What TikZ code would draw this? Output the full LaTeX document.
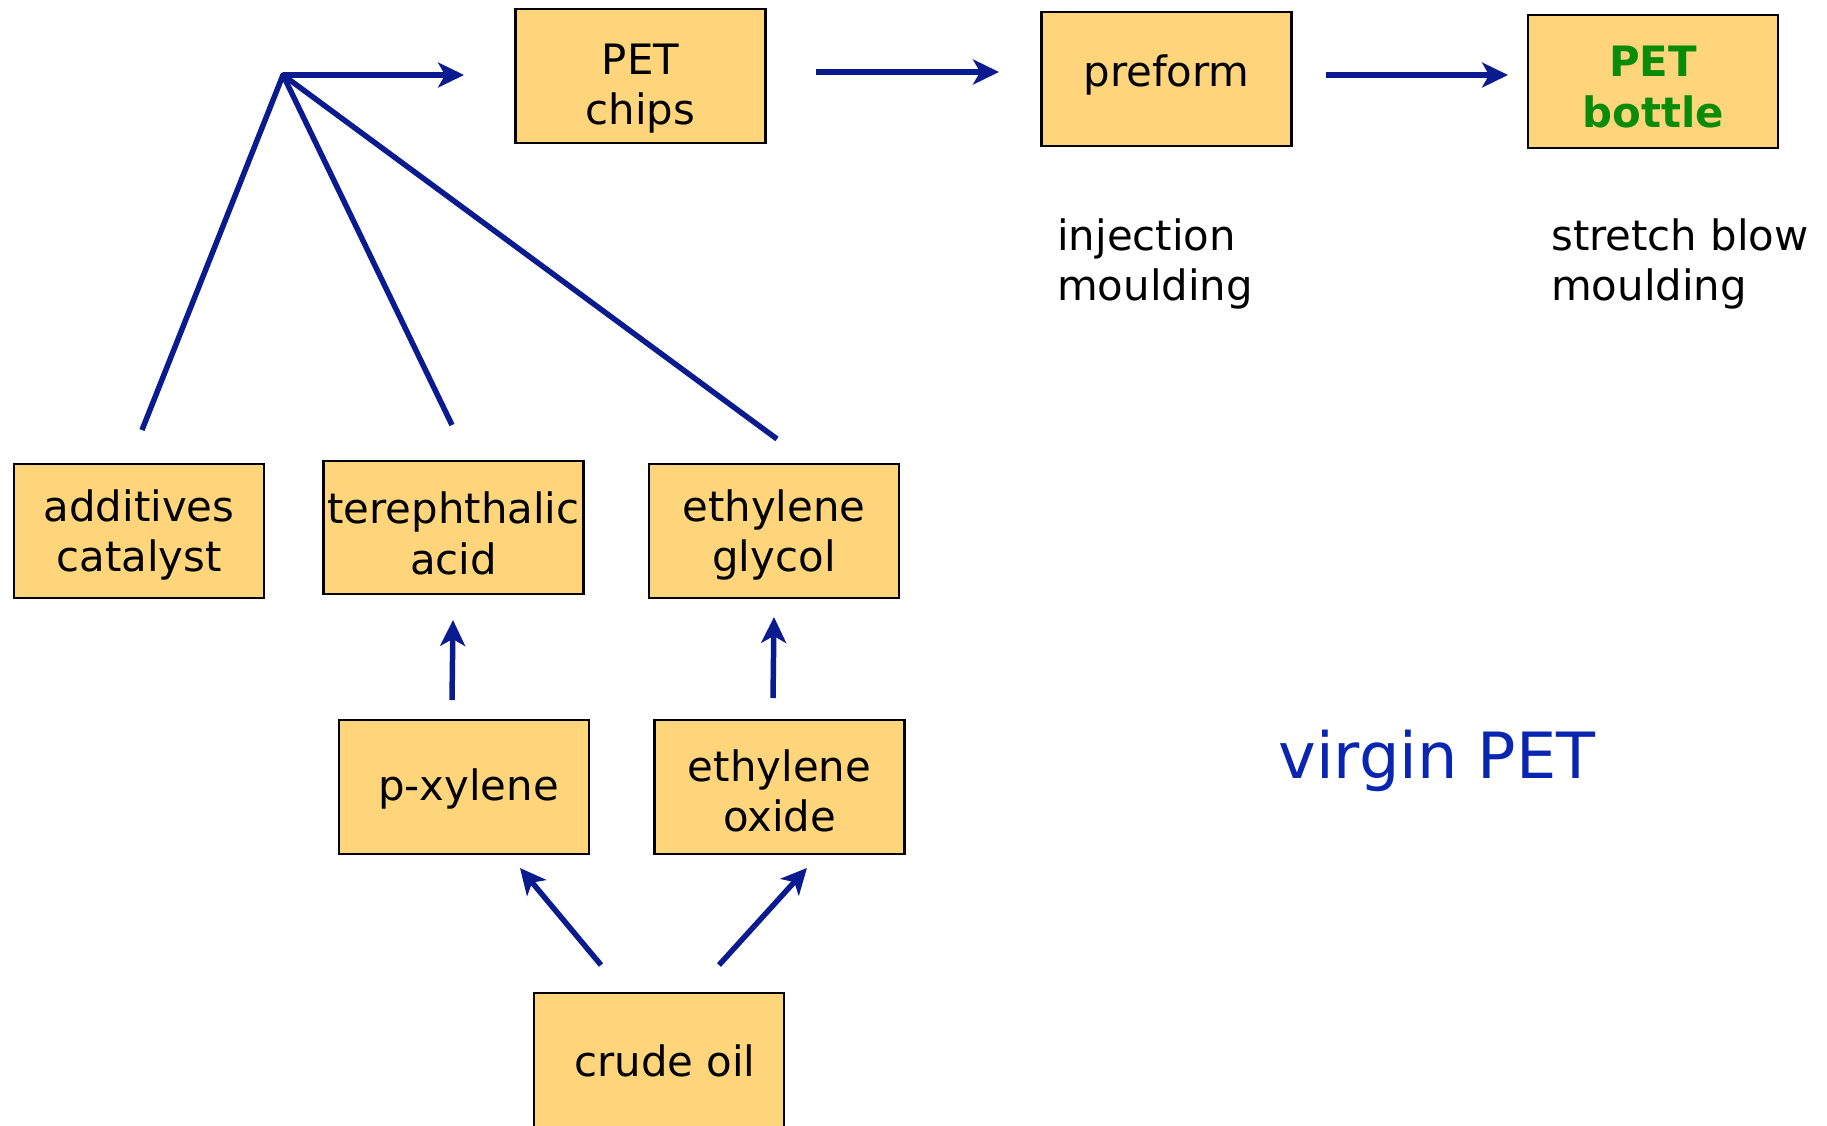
\documentclass[tikz,border=0pt]{standalone}
\usepackage{fontspec}
\setmainfont{DejaVu Sans}
\usetikzlibrary{arrows.meta}

\definecolor{boxfill}{HTML}{FFD57C}
\definecolor{flowblue}{HTML}{0A1A8F}
\definecolor{titleblue}{HTML}{0A26B0}
\definecolor{bottlegreen}{HTML}{0A8C0A}

% box label: lines stacked from the first baseline, raised by #1
\newcommand\boxlabel[2]{\raisebox{#1}[0pt][0pt]{\begin{tabular}[t]{@{}c@{}}#2\end{tabular}}}

\tikzset{
  stage/.style={draw=black, line width=2.2, fill=boxfill, minimum width=251,
    minimum height=134, inner sep=0, align=center,
    font=\fontsize{42}{51}\selectfont},
  flow/.style={draw=flowblue, line width=5.5},
  flowarrow/.style={flow, -{Stealth[length=26, width=25, inset=7]}},
  note/.style={anchor=north west, inner sep=0, align=left,
    font=\fontsize{42}{50}\selectfont},
}

\begin{document}
\begin{tikzpicture}[x=1bp, y=-1bp]
  \clip (0,0) rectangle (1827,1125);

  % process chain along the top
  \node[stage] (chips)   at (640.5,76)  {\boxlabel{2bp}{PET\\chips}};
  \node[stage] (preform) at (1166.5,79) {\boxlabel{-7.5bp}{preform}};
  \node[stage, font=\fontsize{42}{51}\selectfont\bfseries\color{bottlegreen}]
               (bottle)  at (1653,81.5) {\boxlabel{5bp}{PET\\bottle}};

  % raw materials
  \node[stage] (additives) at (139,531)    {\boxlabel{10bp}{additives\\catalyst}};
  \node[stage, minimum width=261] (tpa) at (453.5,527.5) {\boxlabel{4bp}{terephthalic\\acid}};
  \node[stage] (glycol)    at (774,531)    {\boxlabel{10bp}{ethylene\\glycol}};
  \node[stage] (xylene)    at (464,787)    {\boxlabel{-13bp}{\hspace*{9bp}p-xylene}};
  \node[stage] (oxide)     at (779.5,787)  {\boxlabel{6bp}{ethylene\\oxide}};
  \node[stage] (crude)     at (659,1060)   {\boxlabel{-16bp}{\hspace*{12bp}crude oil}};

  % process notes
  \node[note] (inj)     at (1057,219) {injection\\moulding};
  \node[note] (stretch) at (1551,219) {stretch blow\\moulding};
  \node[anchor=base, inner sep=0, text=titleblue,
        font=\fontsize{64}{76}\selectfont] (title) at (1437,778) {virgin PET};

  % connector end points
  \coordinate (join)    at (283,75);
  \coordinate (joinEnd) at (464,75);
  \coordinate (addTop)  at (142,430);
  \coordinate (tpaTop)  at (452,425);
  \coordinate (egTop)   at (777,439);
  \coordinate (chipsOut)   at (816,72);
  \coordinate (preformIn)  at (999,72);
  \coordinate (preformOut) at (1326,75);
  \coordinate (bottleIn)   at (1508,75);
  \coordinate (xylOut) at (452,700);
  \coordinate (tpaIn)  at (453,620);
  \coordinate (eoOut)  at (773,698);
  \coordinate (egIn)   at (774,617);
  \coordinate (crudeL) at (601,965);
  \coordinate (xylIn)  at (520,868);
  \coordinate (crudeR) at (719,965);
  \coordinate (eoIn)   at (807,868);

  % feed lines converging on the polymerisation step
  \draw[flow, line join=round] (addTop) -- (join);
  \draw[flow, line join=round] (tpaTop) -- (join);
  \draw[flow, line join=round] (egTop) -- (join);
  \fill[flowblue] (join) circle[radius=2.75];
  \draw[flowarrow] (join) -- (joinEnd);

  \draw[flowarrow] (chipsOut) -- (preformIn);
  \draw[flowarrow] (preformOut) -- (bottleIn);

  \draw[flowarrow] (xylOut) -- (tpaIn);
  \draw[flowarrow] (eoOut) -- (egIn);
  \draw[flowarrow] (crudeL) -- (xylIn);
  \draw[flowarrow] (crudeR) -- (eoIn);
\end{tikzpicture}
\end{document}
